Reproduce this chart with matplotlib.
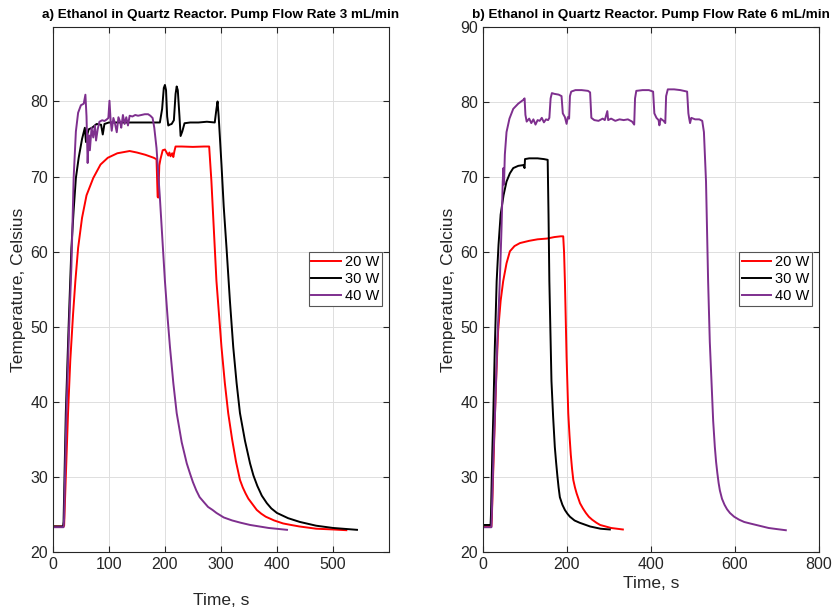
import matplotlib
matplotlib.use('Agg')
import matplotlib.pyplot as plt

plt.rcParams['font.family'] = ['Liberation Sans', 'DejaVu Sans']

# ---- a) 3 mL/min ----
t20a = [0, 19, 20, 23, 27, 31, 36, 40, 45, 52, 60, 72, 85, 98, 115, 137, 150, 165, 180, 185, 187, 188,
        190, 192, 196, 200, 203, 206, 208, 210, 213, 215, 217, 219, 230, 250, 270, 279, 283, 288, 292,
        301, 307, 313, 320, 327, 334, 339, 344, 349, 354, 364, 372, 380, 395, 411, 425, 440, 470, 500, 524]
T20a = [23.4, 23.4, 23.5, 30, 38.5, 45.5, 51.7, 56, 60.5, 64.5, 67.5, 69.8, 71.6, 72.5, 73.1, 73.4, 73.2,
        72.9, 72.5, 72.3, 67.3, 67.2, 71.5, 72.3, 73.5, 73.6, 73.2, 72.8, 73.2, 72.7, 73.1, 72.6, 73.4, 74.0,
        74.0, 73.95, 74.0, 74.0, 69.4, 62, 56.1, 47.3, 42.5, 38.5, 35, 32, 29.6, 28.6, 27.8, 27.1, 26.6,
        25.6, 25.1, 24.7, 24.2, 23.8, 23.6, 23.4, 23.1, 23.0, 22.9]

t30a = [0, 18, 19, 23, 28, 33, 37, 41, 46, 52, 57, 59, 61, 64, 70, 78, 86, 89, 92, 100, 130, 160, 191,
        195, 198, 200, 202, 204, 206, 208, 212, 216, 219, 221, 223, 226, 228, 231, 235, 245, 260, 275, 289,
        292, 294, 296, 301, 305, 310, 316, 322, 328, 334, 343, 352, 358, 365, 373, 382, 390, 400, 420, 441,
        470, 500, 543]
T30a = [23.4, 23.4, 24, 38.5, 50, 60.5, 65.5, 69.8, 72.5, 75, 76.5, 74.6, 75.5, 76.3, 76.5, 77.0, 76.9,
        75.6, 77.0, 77.2, 77.2, 77.2, 77.2, 79, 81.8, 82.2, 81.5, 78, 76.8, 76.9, 77, 77.5, 81, 82.0, 81.5,
        78, 75.4, 76, 77.1, 77.2, 77.2, 77.3, 77.2, 79, 80.0, 78, 71.6, 66, 60.5, 53.5, 47.3, 42.5, 38.5,
        34.8, 31.8, 30.2, 28.8, 27.5, 26.5, 25.8, 25.2, 24.5, 24.0, 23.5, 23.2, 22.95]

t40a = [0, 19, 20, 24, 29, 33, 37, 41, 45, 50, 55, 58, 60, 62, 64, 66, 69, 72, 75, 77, 80, 83, 88, 92,
        96, 99, 101, 103, 105, 108, 111, 114, 117, 120, 122, 125, 128, 131, 134, 137, 142, 147, 152, 158,
        164, 170, 174, 178, 181, 185, 191, 196, 200, 205, 209, 215, 221, 230, 239, 245, 250, 256, 262, 270,
        277, 285, 292, 305, 320, 335, 352, 385, 418]
T40a = [23.3, 23.3, 24.5, 38, 50, 58, 69.8, 76, 78.5, 79.5, 79.7, 80.9, 78, 71.8, 75.5, 73.5, 76.5, 75.2,
        76.8, 74.8, 76.3, 77.3, 77.5, 77.4, 77.6, 77.8, 80.1, 77.5, 76.1, 77.8, 77.0, 75.9, 77.9, 77.3, 76.5,
        78.2, 77.0, 77.9, 76.8, 78.1, 78.0, 78.2, 78.1, 78.2, 78.3, 78.3, 78.1, 77.8, 76.5, 73.8, 67.2, 61,
        56.1, 51, 47.3, 42.5, 38.5, 34.6, 31.8, 30.4, 29.3, 28.2, 27.3, 26.6, 26.0, 25.6, 25.2, 24.6, 24.2,
        23.9, 23.6, 23.2, 22.95]

# ---- b) 6 mL/min ----
t20b = [0, 20, 21, 25, 28.6, 32, 36, 42, 48, 56, 64, 75, 88, 110, 130, 152, 170, 185, 191, 193, 195, 199,
        203, 206, 209, 212, 215, 219, 223, 231, 238, 245, 252, 260, 270, 279, 292, 305, 333]
T20b = [23.4, 23.4, 24.5, 32, 38.5, 44, 49.5, 53.5, 56.1, 58.5, 60.1, 60.8, 61.2, 61.5, 61.7, 61.8, 62.0,
        62.1, 62.1, 60, 56.1, 46, 38.5, 35.5, 33, 31.1, 29.6, 28.6, 27.8, 26.5, 25.8, 25.2, 24.7, 24.3,
        23.9, 23.6, 23.4, 23.2, 23.0]

t30b = [0, 18, 19, 22, 24.6, 28, 32.5, 37, 42, 49, 56, 64, 72, 84, 96, 99, 100, 110, 130, 145, 154, 156,
        158, 163, 167, 171, 174, 177, 180, 183, 189, 195, 201, 207, 218, 230, 255, 280, 302]
T30b = [23.6, 23.6, 25, 33, 38.5, 47, 56.1, 61, 65, 67.6, 69.4, 70.5, 71.2, 71.5, 71.6, 71.2, 72.4, 72.5,
        72.5, 72.4, 72.3, 65, 56.1, 42.8, 38, 34, 32, 30.2, 28.6, 27.3, 26.3, 25.6, 25.1, 24.7, 24.2,
        23.9, 23.4, 23.1, 23.0]

t40b = [0, 20, 21, 25, 28.6, 34, 40, 44, 47, 48.5, 50, 52, 56, 63, 72, 84, 96, 99, 101, 104, 110, 115,
        120, 125, 130, 135, 140, 145, 150, 155, 158, 161, 164, 170, 180, 187, 190, 195, 199, 202, 205, 207,
        210, 220, 235, 250, 255, 258, 265, 275, 285, 290, 296, 298, 305, 315, 325, 335, 345, 355, 360, 362,
        365, 380, 395, 405, 408, 413, 418, 420, 423, 430, 434, 436, 440, 455, 470, 486, 489, 491, 493, 496,
        505, 515, 522, 526, 531, 536, 540, 544, 548, 552, 555, 558, 561, 564, 569, 575, 581, 588, 598, 610,
        622, 636, 658, 680, 700, 721]
T40b = [23.3, 23.3, 25, 33, 38.5, 48, 56.1, 63, 69.4, 71.2, 69, 73, 76, 77.8, 79.1, 79.8, 80.3, 80.5, 78.3,
        77.4, 77.8, 77.2, 77.7, 77.0, 77.6, 77.5, 77.9, 77.3, 77.7, 77.6, 77.9, 80.5, 81.2, 81.1, 81.0, 80.8,
        78.5, 78.0, 77.1, 78, 77.8, 80.8, 81.4, 81.6, 81.6, 81.5, 81.3, 77.9, 77.6, 77.5, 77.8, 77.6, 78.8,
        77.6, 77.8, 77.5, 77.7, 77.6, 77.7, 77.4, 77.0, 80.5, 81.5, 81.6, 81.6, 81.4, 78.5, 77.9, 77.6, 76.9,
        77.8, 77.5, 77.2, 80.8, 81.7, 81.7, 81.6, 81.4, 78.5, 77.8, 77.2, 77.9, 77.7, 77.7, 77.5, 76, 69.4,
        56.1, 48, 42.8, 37.5, 34, 32, 30.5, 29.2, 28.2, 27.1, 26.3, 25.7, 25.2, 24.7, 24.3, 24.0, 23.8,
        23.5, 23.2, 23.05, 22.9]

labels = ['20 W', '30 W', '40 W']
colors = ['#FF0000', '#000000', '#7E2F8E']

axc = '#262626'

fig = plt.figure(figsize=(8.4, 6.11), dpi=100)
ax1 = fig.add_axes([0.063, 0.0966, 0.4, 0.859])
ax2 = fig.add_axes([0.575, 0.0966, 0.4, 0.859])


def style(ax, title, ylabel, xpad):
    ax.set_title(title, fontsize=9.7, fontweight='bold', pad=6.5)
    ax.set_xlabel('Time, s', fontsize=12.5, color=axc, labelpad=xpad)
    ax.set_ylabel(ylabel, fontsize=12.5, color=axc, labelpad=3)
    ax.grid(True, color='#dedede', lw=0.7)
    ax.set_axisbelow(True)
    ax.tick_params(direction='in', length=4, width=0.8, top=True, right=True,
                   labelsize=11.5, colors=axc)
    for s in ax.spines.values():
        s.set_color(axc)
        s.set_linewidth(0.8)
    leg = ax.legend(loc='center right', bbox_to_anchor=(0.98, 0.52), fontsize=10.5,
                    fancybox=False, framealpha=1, edgecolor='#555555',
                    borderpad=0.2, labelspacing=0.2, handlelength=2.0,
                    handletextpad=0.3, borderaxespad=0)
    leg.get_frame().set_linewidth(0.8)


for t, T, c, lab in zip([t20a, t30a, t40a], [T20a, T30a, T40a], colors, labels):
    ax1.plot(t, T, color=c, lw=1.4, label=lab)
ax1.set_xlim(0, 600)
ax1.set_ylim(20, 89.9)
ax1.set_xticks([0, 100, 200, 300, 400, 500])
ax1.set_yticks([20, 30, 40, 50, 60, 70, 80])
style(ax1, 'a) Ethanol in Quartz Reactor. Pump Flow Rate 3 mL/min', 'Temperature, Celsius', 15)

for t, T, c, lab in zip([t20b, t30b, t40b], [T20b, T30b, T40b], colors, labels):
    ax2.plot(t, T, color=c, lw=1.4, label=lab)
ax2.set_xlim(0, 800)
ax2.set_ylim(20, 90)
ax2.set_xticks([0, 200, 400, 600, 800])
ax2.set_yticks([20, 30, 40, 50, 60, 70, 80, 90])
style(ax2, 'b) Ethanol in Quartz Reactor. Pump Flow Rate 6 mL/min', 'Temperature, Celcius', 3)

fig.savefig('out.png', dpi=100)
